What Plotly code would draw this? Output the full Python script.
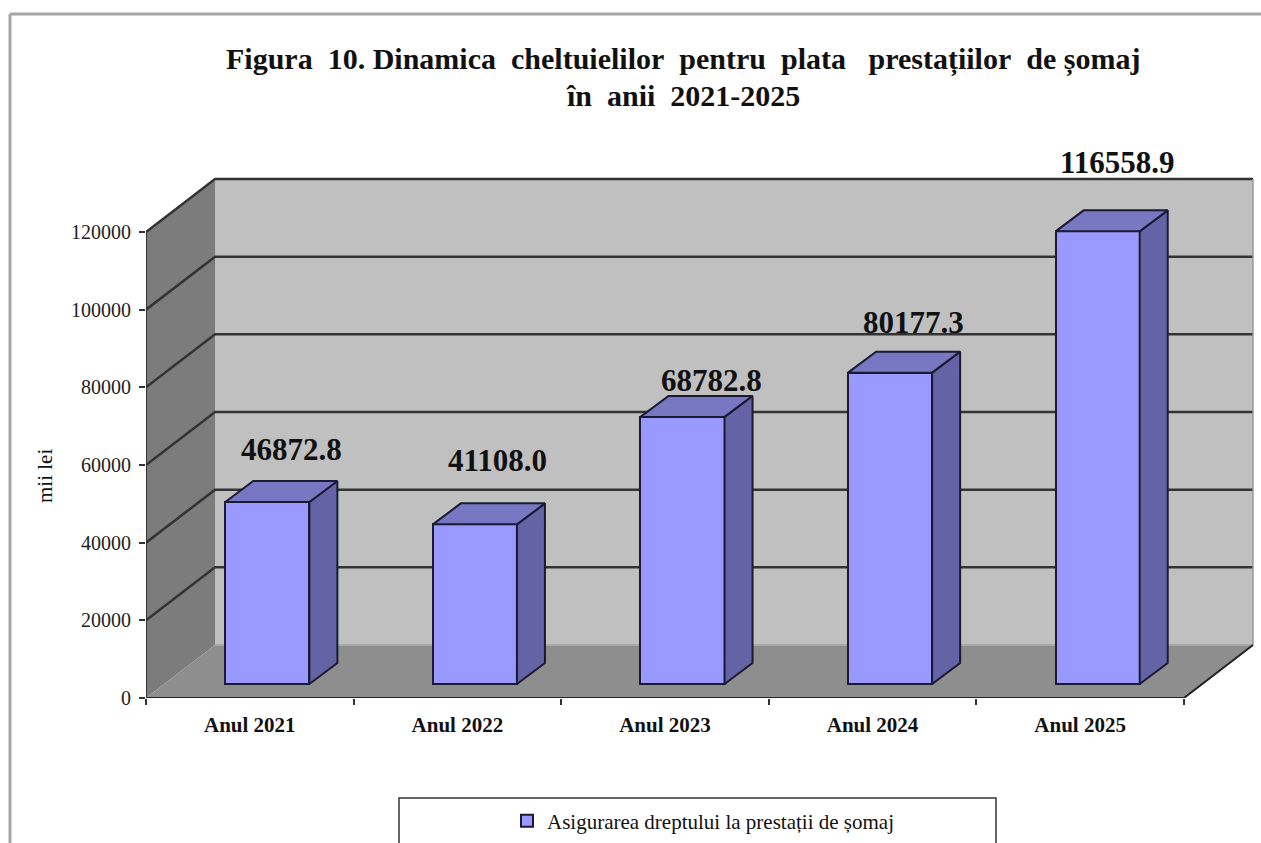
import plotly.graph_objects as go

# ---- data ----
categories = ["Anul 2021", "Anul 2022", "Anul 2023", "Anul 2024", "Anul 2025"]
values = [46872.8, 41108.0, 68782.8, 80177.3, 116558.9]
value_labels = ["46872.8", "41108.0", "68782.8", "80177.3", "116558.9"]
y_ticks = [0, 20000, 40000, 60000, 80000, 100000, 120000]
series_name = "Asigurarea dreptului la prestații de șomaj"
y_title = "mii lei"
title_lines = [
    "Figura\u00a0\u00a010.\u00a0Dinamica\u00a0\u00a0cheltuielilor\u00a0\u00a0pentru\u00a0\u00a0plata\u00a0\u00a0\u00a0prestațiilor\u00a0\u00a0de\u00a0șomaj",
    "în\u00a0\u00a0anii\u00a0\u00a02021-2025",
]

# ---- pseudo-3D geometry (axis units) ----
PX_X = 1037 / 5            # px per category
PX_Y = 466 / 120000        # px per value unit
wall_dx, wall_dy = 69 / PX_X, 53 / PX_Y
bar_off_x, bar_base = 17.5 / PX_X, 14 / PX_Y
bar_w = 84 / PX_X
bar_dx, bar_dy = 28 / PX_X, 21 / PX_Y
x0, x1 = -0.5, 4.5
label_shift = [(24, 52), (23, 64), (29, 36), (23, 50), (20, 69)]

FRONT, SIDE, TOP = "#9999FF", "#6363A6", "#7777C2"
WALL, SIDEWALL, FLOOR = "#C0C0C0", "#7C7C7C", "#8E8E8E"
SERIF = "Liberation Serif"

# page layout in px
M_L, M_R, M_T, M_B = 146, 6, 177, 145
PW, PH = 1261 - M_L - M_R, 843 - M_T - M_B


def px(x):
    return (x - M_L) / PW


def py(y):
    return (843 - M_B - y) / PH


pos = list(range(len(categories)))
centers = [p + bar_off_x for p in pos]


def poly(xs, ys, fill):
    return dict(type="path", xref="x", yref="y", layer="below",
                path="M" + "L".join(f"{a},{b}" for a, b in zip(xs, ys)) + "Z",
                fillcolor=fill, line=dict(color=fill, width=0))


def seg(xs, ys, color="#222222", width=2):
    return dict(type="path", xref="x", yref="y", layer="below",
                path="M" + "L".join(f"{a},{b}" for a, b in zip(xs, ys)),
                line=dict(color=color, width=width))


top = y_ticks[-1]
shapes = [
    poly([x0 + wall_dx, x1 + wall_dx, x1 + wall_dx, x0 + wall_dx],
         [wall_dy, wall_dy, top + wall_dy, top + wall_dy], WALL),
    poly([x0, x0 + wall_dx, x0 + wall_dx, x0],
         [0, wall_dy, top + wall_dy, top], SIDEWALL),
    poly([x0, x0 + wall_dx, x1 + wall_dx, x1],
         [0, wall_dy, wall_dy, 0], FLOOR),
]
for t in y_ticks[1:]:
    shapes.append(seg([x0, x0 + wall_dx, x1 + wall_dx],
                      [t, t + wall_dy, t + wall_dy], "#333333", 2.5))
shapes.append(seg([x0 + wall_dx, x1 + wall_dx], [wall_dy, wall_dy], "#A8A8A8", 2))
shapes.append(seg([x1 + wall_dx, x1 + wall_dx], [wall_dy, top + wall_dy], "#999999", 1.5))
shapes.append(seg([x0, x1, x1 + wall_dx], [0, 0, wall_dy], "#222222", 2))
shapes.append(seg([x0, x0], [0, top], "#333333", 2))
# outer chart frame (runs off the page)
shapes.append(dict(type="line", xref="paper", yref="paper", layer="below",
                   x0=px(10), x1=px(1300), y0=py(14), y1=py(14),
                   line=dict(color="#A6A6A6", width=3)))
shapes.append(dict(type="line", xref="paper", yref="paper", layer="below",
                   x0=px(10), x1=px(10), y0=py(14), y1=py(900),
                   line=dict(color="#A6A6A6", width=3)))
# legend frame (runs off the bottom of the page)
shapes.append(dict(type="rect", xref="paper", yref="paper", layer="below",
                   x0=px(399), x1=px(996), y0=py(870), y1=py(798),
                   fillcolor="white", line=dict(color="#333333", width=1.5)))

traces = [go.Bar(x=centers, y=values, base=bar_base, width=bar_w, name=series_name,
                 marker=dict(color=FRONT, line=dict(color="#1A1A33", width=2)),
                 hoverinfo="skip", showlegend=True)]
for c, v in zip(centers, values):
    l, r = c - bar_w / 2, c + bar_w / 2
    b, t = bar_base, bar_base + v
    traces.append(go.Scatter(x=[r, r + bar_dx, r + bar_dx, r, r],
                             y=[b, b + bar_dy, t + bar_dy, t, b],
                             mode="lines", fill="toself", fillcolor=SIDE,
                             line=dict(color="#1A1A33", width=2),
                             showlegend=False, hoverinfo="skip"))
    traces.append(go.Scatter(x=[l, r, r + bar_dx, l + bar_dx, l],
                             y=[t, t, t + bar_dy, t + bar_dy, t],
                             mode="lines", fill="toself", fillcolor=TOP,
                             line=dict(color="#1A1A33", width=2),
                             showlegend=False, hoverinfo="skip"))

annotations = [
    dict(x=c, y=bar_base + v, text=f"<b>{lab}</b>", showarrow=False,
         xanchor="center", yanchor="middle", xshift=sx, yshift=sy,
         font=dict(family=SERIF, size=31, color="#111111"))
    for c, v, lab, (sx, sy) in zip(centers, values, value_labels, label_shift)
]
for line, y in zip(title_lines, (60, 96)):
    annotations.append(dict(xref="paper", yref="paper", x=px(683), y=py(y),
                            text=f"<b>{line}</b>", showarrow=False,
                            xanchor="center", yanchor="middle",
                            font=dict(family=SERIF, size=30, color="#111111")))
annotations.append(dict(xref="paper", yref="paper", x=px(45), y=py(476),
                        text=y_title, textangle=-90, showarrow=False,
                        xanchor="center", yanchor="middle",
                        font=dict(family=SERIF, size=21, color="#111111")))

fig = go.Figure(traces)
fig.update_layout(
    width=1261, height=843, autosize=False,
    margin=dict(l=M_L, r=M_R, t=M_T, b=M_B, pad=0),
    paper_bgcolor="white", plot_bgcolor="rgba(0,0,0,0)",
    bargap=0, barmode="overlay",
    shapes=shapes, annotations=annotations,
    legend=dict(xref="paper", yref="container", x=px(703), y=(843 - 821) / 843,
                xanchor="center", yanchor="middle",
                bgcolor="rgba(0,0,0,0)", borderwidth=0, itemwidth=30,
                font=dict(family=SERIF, size=21, color="#111111")),
    xaxis=dict(range=[x0, x1 + wall_dx + 2 / PX_X], tickmode="array", tickvals=pos,
               ticktext=[f"<b>{c}</b>" for c in categories], ticks="", tickangle=0,
               showgrid=False, zeroline=False, showline=False, fixedrange=True,
               ticklabelstandoff=12,
               tickfont=dict(family=SERIF, size=21, color="#111111"),
               minor=dict(tickmode="array", tickvals=[p - 0.5 for p in pos] + [x1],
                          ticks="outside", ticklen=6, tickwidth=2, tickcolor="#333333")),
    yaxis=dict(range=[0, top + wall_dy + 2 / PX_Y], tickmode="array", tickvals=y_ticks,
               ticktext=[str(t) for t in y_ticks], ticks="outside", ticklen=6,
               tickwidth=2, tickcolor="#333333", showgrid=False, zeroline=False,
               showline=False, fixedrange=True, ticklabelstandoff=4,
               tickfont=dict(family=SERIF, size=20, color="#222222")),
)
fig.write_html("out.html", config=dict(displayModeBar=False),
               post_script="document.body.style.margin='0';document.body.style.overflow='hidden';")
